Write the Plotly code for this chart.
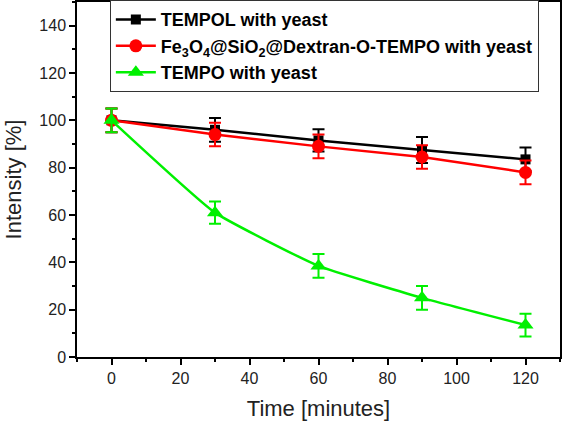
import plotly.graph_objects as go

time_min = [0, 30, 60, 90, 120]
tempol = [100, 96, 91.5, 87.5, 83.5]
tempol_err = [5, 5, 4.7, 5.5, 5]
fe3o4 = [100, 94, 89, 84.5, 78]
fe3o4_err = [5, 5, 5, 5, 5]
tempo = [100, 61, 38.5, 25, 13.5]
tempo_err = [5, 4.7, 5, 5, 4.8]

names = ["TEMPOL with yeast",
         "Fe<sub>3</sub>O<sub>4</sub>@SiO<sub>2</sub>@Dextran-O-TEMPO with yeast",
         "TEMPO with yeast"]

GREEN = "rgb(0,240,0)"
FONT = "Arial, Liberation Sans, sans-serif"

fig = go.Figure()
series = [
    (tempol, tempol_err, "black", "square", 10, names[0], "linear"),
    (fe3o4, fe3o4_err, "red", "circle", 13, names[1], "linear"),
    (tempo, tempo_err, GREEN, "triangle-up", 14, names[2], "spline"),
]
for vals, errs, col, sym, sz, nm, shape in series:
    fig.add_trace(go.Scatter(
        x=time_min, y=vals, name=nm, mode="lines+markers",
        line=dict(color=col, width=2.5, shape=shape, smoothing=0.4),
        marker=dict(color=col, symbol=sym, size=sz),
        error_y=dict(type="data", array=errs, visible=True, color=col,
                     thickness=2, width=6),
    ))

axis_common = dict(
    showline=True, linecolor="black", linewidth=1.5, mirror=True,
    ticks="outside", ticklen=6, tickwidth=1.5, tickcolor="black",
    showgrid=False, zeroline=False,
    tickfont=dict(family=FONT, size=16, color="#222"),
    minor=dict(ticks="outside", ticklen=3.5, tickwidth=1.5, tickcolor="black"),
)

fig.update_xaxes(range=[-10, 130], tickvals=[0, 20, 40, 60, 80, 100, 120],
                 minor_dtick=10, minor_tick0=0,
                 title=dict(text="Time [minutes]", font=dict(family=FONT, size=22, color="#222"), standoff=15),
                 **axis_common)
fig.update_yaxes(range=[0, 150], tickvals=[0, 20, 40, 60, 80, 100, 120, 140],
                 minor_dtick=10, minor_tick0=0,
                 title=dict(text="Intensity [%]", font=dict(family=FONT, size=22, color="#222"), standoff=12),
                 **axis_common)

fig.update_layout(
    width=562, height=426,
    margin=dict(l=77, r=2, t=2, b=69, autoexpand=False),
    paper_bgcolor="white", plot_bgcolor="white",
    font=dict(family=FONT),
    legend=dict(
        x=0.068, y=1.005, xanchor="left", yanchor="top",
        bgcolor="white", bordercolor="#333", borderwidth=1,
        font=dict(family=FONT, size=18, color="black", weight="bold"),
        itemwidth=40, tracegroupgap=0,
    ),
    showlegend=True,
)

fig.write_html("out.html", config={"displayModeBar": False},
               post_script="document.body.style.margin='0';")
